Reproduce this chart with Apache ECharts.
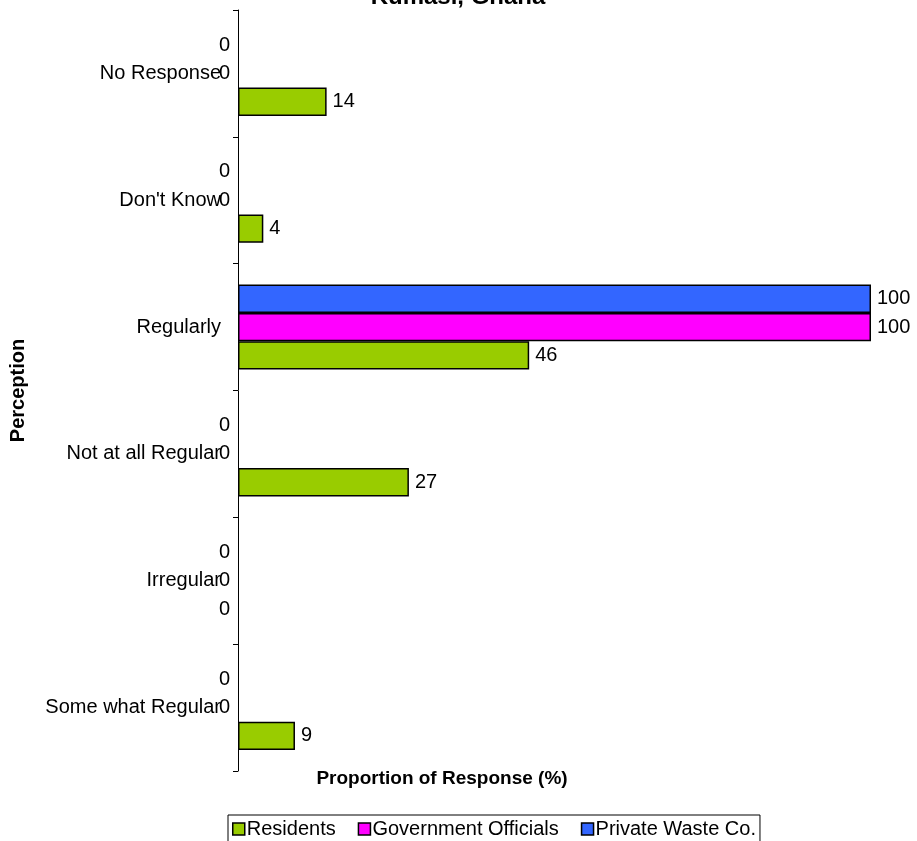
<!DOCTYPE html>
<html>
<head>
<meta charset="utf-8">
<script src="https://cdn.jsdelivr.net/npm/echarts@6/dist/echarts.min.js"></script>
<style>
  html, body { margin: 0; padding: 0; background: #fff; }
  #chart { width: 917px; height: 841px; }
</style>
</head>
<body>
<div id="chart"></div>
<script>
// Perception categories, listed bottom to top as the category axis draws them
const categories = ["Some what Regular", "Irregular", "Not at all Regular", "Regularly", "Don't Know", "No Response"];

// Proportion of response (%) for each group
const residents = [9, 0, 27, 46, 4, 14];
const governmentOfficials = [0, 0, 0, 100, 0, 0];
const privateWasteCo = [0, 0, 0, 100, 0, 0];

const seriesNames = ["Residents", "Government Officials", "Private Waste Co."];
const seriesColors = ["#99CC00", "#FF00FF", "#3366FF"];

const FONT = "'Liberation Sans', Arial, sans-serif";
const LABEL_SIZE = 20;

// Zero-value bars get no outline and carry their label just left of the axis
function withLabels(values) {
  return values.map(v => v === 0
    ? { value: v, itemStyle: { borderWidth: 0 }, label: { position: "left", distance: 8 } }
    : v);
}

function barSeries(name, values, color) {
  return {
    name: name,
    type: "bar",
    data: withLabels(values),
    barGap: "0%",
    barCategoryGap: "33%",
    itemStyle: { color: color, borderColor: "#000", borderWidth: 1.5 },
    label: {
      show: true,
      position: "right",
      distance: 6,
      color: "#000",
      fontFamily: FONT,
      fontSize: LABEL_SIZE
    },
    emphasis: { disabled: true }
  };
}

const chart = echarts.init(document.getElementById("chart"), null, { renderer: "canvas" });

chart.setOption({
  backgroundColor: "#fff",
  animation: false,
  title: [
    {
      text: "Kumasi, Ghana",
      left: 458,
      textAlign: "center",
      top: -15,
      padding: 0,
      textStyle: { fontFamily: FONT, fontSize: 24, fontWeight: "bold", color: "#000" }
    },
    {
      text: "Proportion of Response (%)",
      left: 442,
      textAlign: "center",
      top: 769,
      padding: 0,
      textStyle: { fontFamily: FONT, fontSize: 19, fontWeight: "bold", color: "#000" }
    }
  ],
  grid: { left: 237, right: 46, top: 10, bottom: 70, containLabel: false },
  xAxis: {
    type: "value",
    min: 0,
    max: 100,
    show: false
  },
  yAxis: {
    type: "category",
    data: categories,
    name: "Perception",
    nameLocation: "middle",
    nameRotate: 90,
    nameGap: 210,
    nameTextStyle: { fontFamily: FONT, fontSize: 20, fontWeight: "bold", color: "#000" },
    axisLine: { show: true, lineStyle: { color: "#000", width: 1 } },
    axisTick: { show: true, length: 5, lineStyle: { color: "#000" } },
    axisLabel: { margin: 17, fontFamily: FONT, fontSize: LABEL_SIZE, color: "#000" },
    splitLine: { show: false }
  },
  legend: {
    data: seriesNames,
    left: 228,
    top: 815,
    orient: "horizontal",
    itemWidth: 12,
    itemHeight: 12,
    itemGap: 22,
    icon: "rect",
    padding: [4, 4, 4, 4],
    borderColor: "#000",
    borderWidth: 1,
    borderRadius: 0,
    itemStyle: { borderColor: "#000", borderWidth: 1.5 },
    textStyle: { fontFamily: FONT, fontSize: LABEL_SIZE, color: "#000", padding: [0, 0, 0, -3] }
  },
  // Later series sit above earlier ones inside each category band
  series: [
    barSeries(seriesNames[2], privateWasteCo, seriesColors[2]),
    barSeries(seriesNames[1], governmentOfficials, seriesColors[1]),
    barSeries(seriesNames[0], residents, seriesColors[0])
  ]
});
</script>
</body>
</html>
